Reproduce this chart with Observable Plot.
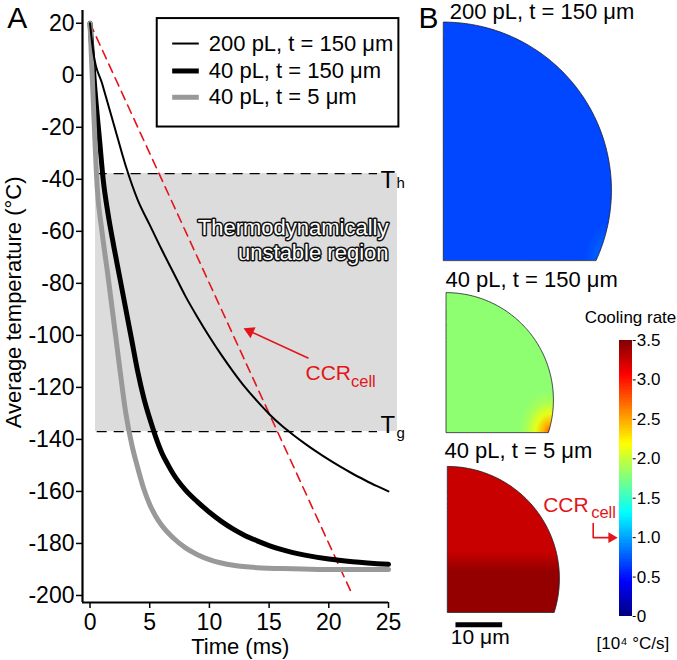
<!DOCTYPE html>
<html><head><meta charset="utf-8">
<script src="https://cdn.jsdelivr.net/npm/d3@7"></script>
<script src="https://cdn.jsdelivr.net/npm/@observablehq/plot@0.6"></script>
<style>
html,body{margin:0;padding:0;background:#fff;}
#root{position:relative;width:677px;height:660px;overflow:hidden;}
#root svg{position:absolute;max-width:none;}
</style></head><body><div id="root"></div>
<script>
const FONT = '"Liberation Sans", Arial, Helvetica, sans-serif';

// ---------- Panel A data ----------
const seriesNames = ["200 pL, t = 150 μm", "40 pL, t = 150 μm", "40 pL, t = 5 μm"];
const seriesColors = ["#000000", "#000000", "#999999"];
const seriesWidths = [2, 5, 5];

const time200_150 = [0,0.3,1,2,3,4,5,6,7,8,9,10,11,12,13,14,15,16,17,18,19,20,21,22,23,24,25];
const temp200_150 = [20,8,-3,-19,-35,-48,-57.5,-67,-76,-85,-93,-100.5,-107.5,-114,-120,-125.3,-130.2,-134.5,-138.2,-141.6,-144.8,-147.8,-150.6,-153.2,-155.6,-157.9,-160];

const time40_150 = [0,0.4,0.8,1.1,1.5,2,2.5,3,3.5,4,4.5,5,5.5,6,6.5,7,8,9,10,11,12,13,14,15,16,17,18,20,22,25];
const temp40_150 = [20,-5,-25,-40,-53,-66,-78,-90,-102,-114,-124,-132,-139,-145,-149.5,-153.5,-159.5,-164,-168,-171.5,-174.5,-177,-179,-180.8,-182.3,-183.5,-184.5,-186,-187,-188];

const time40_5 = [0,0.3,0.6,1,1.5,2,2.5,3,3.5,4,4.5,5,5.5,6,7,8,9,10,11,12,14,17,20,25];
const temp40_5 = [20,-13,-43,-60,-77,-95,-113,-130,-142,-151,-159,-165,-169.5,-173,-178,-181.7,-184.3,-186.2,-187.5,-188.4,-189.3,-189.7,-190,-190];

const ccrTime = [0, 22];
const ccrTemp = [20, -200];

const Th = -37.8, Tg = -137.0;
const regionTime = [0.46, 25.75];
const xTicks = [0, 5, 10, 15, 20, 25];
const yTicks = [-200, -180, -160, -140, -120, -100, -80, -60, -40, -20, 0, 20];

// ---------- Panel B data ----------
const dropLabels = ["200 pL, t = 150 μm", "40 pL, t = 150 μm", "40 pL, t = 5 μm"];
const dropRadius = [36.0, 23.0, 24.0];            // µm
const dropBaseBelowCenter = [15.0, 6.9, 7.2];     // µm
// cooling-rate stops read from the maps (x10^4 °C/s)
const dropGradType = ["radial", "radial", "linear"];
const dropGradRadius = [0.16, 0.3, null];
const dropGradOffsets = [[0, 1], [0, 0.2, 0.45, 0.75, 1], [0, 0.58, 0.72, 1]];
const dropGradValues = [[0.85, 0.68], [2.8, 2.45, 2.1, 1.88, 1.8], [3.25, 3.25, 3.43, 3.43]];
const colorbarTicks = [0, 0.5, 1.0, 1.5, 2.0, 2.5, 3.0, 3.5];
const scaleBarLength = 10; // µm

// jet colormap
const jetPos = [0, 0.125, 0.375, 0.625, 0.875, 1];
const jetColors = ["#000080", "#0000ff", "#00ffff", "#ffff00", "#ff0000", "#800000"];
const rateMax = 3.5;
const jetDomain = jetPos.map(p => p * rateMax);
const jet = d3.scaleLinear().domain(jetDomain).range(jetColors).interpolate(d3.interpolateRgb).clamp(true);

// ---------- layout ----------
const RED = "#e3151a";
const root = document.getElementById("root");
function place(svg, left, top) { svg.style.left = left + "px"; svg.style.top = top + "px"; root.appendChild(svg); }

const series = [
  {t: time200_150, T: temp200_150},
  {t: time40_150, T: temp40_150},
  {t: time40_5, T: temp40_5}
].map((s, i) => s.t.map((t, k) => ({t, T: s.T[k], i})));
const ccr = ccrTime.map((t, k) => ({t, T: ccrTemp[k]}));
const ccrRate = (ccrTemp[0] - ccrTemp[1]) / (ccrTime[1] - ccrTime[0]) / 10; // x10^4 °C/s

const xDom = [-0.63, 25], yDom = [-202.7, 24.9];

const legendBox = {t1: 5.63, t2: 25.87, T1: 21.8, T2: -19.9};
const legendRows = [12.2, 1.65, -8.46];

const plotA = Plot.plot({
  width: 420, height: 660,
  marginLeft: 82, marginRight: 32, marginTop: 10, marginBottom: 58,
  x: {domain: xDom}, y: {domain: yDom},
  style: {background: "transparent", fontFamily: FONT, fontSize: "22px", overflow: "visible"},
  marks: [
    Plot.rect([{t1: regionTime[0], t2: regionTime[1], y1: Tg, y2: Th}], {x1: "t1", x2: "t2", y1: "y1", y2: "y2", fill: "#dcdcdc"}),
    Plot.ruleY([Th, Tg], {x1: 0.6, x2: 24.08, stroke: "#000", strokeWidth: 1.2, strokeDasharray: "10,7"}),
    Plot.text(["Thermodynamically\nunstable region"], {x: 25.0, y: -71.15, text: d => d, textAnchor: "end", lineAnchor: "bottom", lineHeight: 1.14, fontSize: 22, fill: "white", stroke: "#111", strokeWidth: 3, paintOrder: "stroke"}),
    Plot.line(ccr, {x: "t", y: "T", stroke: RED, strokeWidth: 1.6, strokeDasharray: "9,6"}),
    Plot.line(series[1], {x: "t", y: "T", stroke: seriesColors[1], strokeWidth: seriesWidths[1], curve: "monotone-x"}),
    Plot.line(series[2], {x: "t", y: "T", stroke: seriesColors[2], strokeWidth: seriesWidths[2], curve: "monotone-x"}),
    Plot.line(series[0], {x: "t", y: "T", stroke: seriesColors[0], strokeWidth: seriesWidths[0], curve: "monotone-x"}),
    // threshold labels
    Plot.text(["T", "T"], {x: 24.33, y: [-43.3, -137.6], text: d => d, textAnchor: "start", lineAnchor: "bottom", fontSize: 24}),
    Plot.text(["h", "g"], {x: 25.67, y: [-43.5, -139.6], text: d => d, textAnchor: "start", lineAnchor: "bottom", fontSize: 15}),
    // CCR annotation
    Plot.link([{x1: 18.3, y1: -108.8, x2: 13.39, y2: -98.4}], {x1: "x1", y1: "y1", x2: "x2", y2: "y2", stroke: RED, strokeWidth: 1.6}),
    Plot.dot([{x: 13.39, y: -98.4}], {x: "x", y: "y", symbol: "triangle", r: 4.5, fill: RED, stroke: "none", rotate: -65.2}),
    Plot.text(["CCR"], {x: 18.05, y: -117.3, text: d => d, textAnchor: "start", lineAnchor: "bottom", fontSize: 21, fill: RED}),
    Plot.text(["cell"], {x: 21.86, y: -120.0, text: d => d, textAnchor: "start", lineAnchor: "bottom", fontSize: 16.5, fill: RED}),
    // legend
    Plot.rect([legendBox], {x1: "t1", x2: "t2", y1: "T1", y2: "T2", fill: "white", stroke: "#000", strokeWidth: 2}),
    ...seriesNames.map((n, i) => Plot.link([{x1: 6.88, x2: 9.11, y: legendRows[i]}], {x1: "x1", x2: "x2", y1: "y", y2: "y", stroke: seriesColors[i], strokeWidth: seriesWidths[i]})),
    Plot.text(seriesNames, {x: 9.95, y: legendRows, text: d => d, textAnchor: "start", lineAnchor: "middle", fontSize: 22}),
    // axes
    Plot.axisY({ticks: yTicks, tickSize: 6, tickPadding: 2, tickFormat: d => String(d), label: null, fontSize: 23, strokeWidth: 1.5}),
    Plot.axisX({ticks: xTicks, tickSize: 6, tickPadding: 5, tickFormat: d => String(d), label: null, fontSize: 23, strokeWidth: 1.5}),
    Plot.ruleX([xDom[0]], {y1: yDom[0], y2: yDom[1], stroke: "#000", strokeWidth: 2.2}),
    Plot.ruleY([yDom[0]], {x1: xDom[0], x2: 25, stroke: "#000", strokeWidth: 2.2}),
    Plot.text(["Time (ms)"], {x: 12.58, y: -222.5, text: d => d, textAnchor: "middle", lineAnchor: "bottom", fontSize: 22}),
    Plot.text(["Average temperature (°C)"], {x: -5.74, y: -87.3, text: d => d, textAnchor: "middle", lineAnchor: "bottom", rotate: -90, fontSize: 22}),
    Plot.text(["A"], {x: -6.93, y: 18.3, text: d => d, textAnchor: "start", lineAnchor: "bottom", fontSize: 30})
  ]
});
place(plotA, 0, 0);

// ---------- Panel B: droplet maps ----------
const dropCx = [0, 0.58, 0.86], dropCy = [100.6, 55.67, 17.45];
function dropOutline(i) {
  const r = dropRadius[i], cx = dropCx[i], cy = dropCy[i], b = dropBaseBelowCenter[i];
  const a0 = -Math.asin(b / r), n = 120;
  return d3.range(n + 1).map(k => {
    const a = a0 + (Math.PI / 2 - a0) * k / n;
    return {y: cy + r * Math.sin(a), x1: cx, x2: cx + r * Math.cos(a)};
  });
}
const titlePos = [[1.28, 137.4], [0.36, 79.9], [0.15, 43.3]];

const plotB = Plot.plot({
  width: 277, height: 660, margin: 0,
  x: {domain: [-9.27, 50.04], axis: null},
  y: {domain: [0, 141.33], axis: null},
  style: {background: "transparent", fontFamily: FONT, fontSize: "22px", overflow: "visible"},
  marks: [
    ...dropLabels.map((n, i) => Plot.areaX(dropOutline(i), {y: "y", x1: "x1", x2: "x2", fill: `url(#dropGrad${i})`, stroke: "#1c1c2a", strokeWidth: 0.8})),
    Plot.text(dropLabels, {x: titlePos.map(p => p[0]), y: titlePos.map(p => p[1]), text: d => d, textAnchor: "start", lineAnchor: "bottom", fontSize: 22}),
    Plot.text(["B"], {x: -5.42, y: 135.5, text: d => d, textAnchor: "start", lineAnchor: "bottom", fontSize: 30}),
    Plot.link([{x1: 2.5, x2: 2.5 + scaleBarLength, y: 7.64}], {x1: "x1", x2: "x2", y1: "y", y2: "y", stroke: "#000", strokeWidth: 5}),
    Plot.text([`${scaleBarLength} μm`], {x: 2.5 + scaleBarLength / 2 + 0.3, y: 3.43, text: d => d, textAnchor: "middle", lineAnchor: "bottom", fontSize: 21})
  ]
});
// gradients for the droplet maps (colours from the jet scale)
const defs = d3.select(plotB).insert("defs", ":first-child");
dropLabels.forEach((n, i) => {
  let g;
  if (dropGradType[i] === "radial") {
    g = defs.append("radialGradient").attr("id", `dropGrad${i}`).attr("cx", i === 0 ? 1 : 0.97).attr("cy", 1).attr("r", dropGradRadius[i]);
  } else {
    g = defs.append("linearGradient").attr("id", `dropGrad${i}`).attr("x1", 0).attr("y1", 0).attr("x2", 0).attr("y2", 1);
  }
  dropGradOffsets[i].forEach((o, k) => g.append("stop").attr("offset", o).attr("stop-color", jet(dropGradValues[i][k])));
});
place(plotB, 400, 0);

// ---------- Colour bar ----------
const cbSteps = d3.range(0, rateMax, 0.02);
const plotC = Plot.plot({
  width: 147, height: 360,
  marginLeft: 89.3, marginRight: 45.3, marginTop: 40, marginBottom: 44,
  x: {domain: [0, 1], axis: null},
  y: {domain: [0, rateMax]},
  color: {type: "linear", domain: jetDomain, range: jetColors, interpolate: "rgb"},
  style: {background: "transparent", fontFamily: FONT, fontSize: "17px", overflow: "visible"},
  marks: [
    Plot.rect(cbSteps, {x1: 0, x2: 1, y1: d => d, y2: d => Math.min(rateMax, d + 0.021), fill: d => d + 0.01, shapeRendering: "crispEdges"}),
    Plot.axisY({anchor: "right", ticks: colorbarTicks, tickSize: 3, tickPadding: 1.5, tickFormat: d => d === 0 ? "0" : d.toFixed(1), label: null, fontSize: 17}),
    Plot.text(["Cooling rate"], {x: 0.86, y: 3.72, text: d => d, textAnchor: "middle", lineAnchor: "bottom", fontSize: 17}),
    Plot.text(["[10⁴ °C/s]"], {x: 1.06, y: -0.406, text: d => d, textAnchor: "middle", lineAnchor: "bottom", fontSize: 17}),
    Plot.text(["CCR"], {x: -6.18, y: 1.323, text: d => d, textAnchor: "start", lineAnchor: "bottom", fontSize: 21, fill: RED}),
    Plot.text(["cell"], {x: -2.31, y: 1.243, text: d => d, textAnchor: "start", lineAnchor: "bottom", fontSize: 16.5, fill: RED}),
    Plot.line([{x: -2.145, y: ccrRate + 0.18}, {x: -2.145, y: ccrRate}, {x: -0.669, y: ccrRate}], {x: "x", y: "y", stroke: RED, strokeWidth: 1.6}),
    Plot.dot([{x: -0.669, y: ccrRate}], {x: "x", y: "y", symbol: "triangle", r: 4, fill: RED, stroke: "none", rotate: 90})
  ]
});
place(plotC, 530, 300);
</script></body></html>
